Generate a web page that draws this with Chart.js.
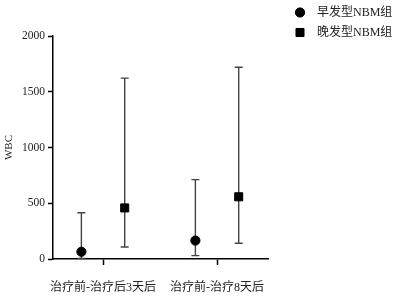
<!DOCTYPE html>
<html>
<head>
<meta charset="utf-8">
<script src="https://cdn.jsdelivr.net/npm/chart.js@4.4.1/dist/chart.umd.min.js"></script>
<style>
html,body{margin:0;padding:0;background:#fff;}
#wrap{width:396px;height:296px;position:relative;}
</style>
</head>
<body>
<div id="wrap"><canvas id="c"></canvas></div>
<script>
const categories = ['治疗前-治疗后3天后', '治疗前-治疗8天后'];
const seriesNames = ['早发型NBM组', '晚发型NBM组'];
const earlyMedian = [65, 165];
const earlyLow = [5, 30];
const earlyHigh = [415, 712];
const lateMedian = [458, 558];
const lateLow = [108, 141];
const lateHigh = [1622, 1720];
const yTicks = [0, 500, 1000, 1500, 2000];

const OFFSET = 0.19;
const FONT = "'Liberation Serif','Noto Sans CJK SC',serif";
Chart.defaults.font.family = FONT;
Chart.defaults.color = '#222';

const earlyData = categories.map((c, i) => ({x: i + 1 - OFFSET, y: earlyMedian[i], lo: earlyLow[i], hi: earlyHigh[i]}));
const lateData = categories.map((c, i) => ({x: i + 1 + OFFSET, y: lateMedian[i], lo: lateLow[i], hi: lateHigh[i]}));

const errorBars = {
  id: 'errorBars',
  beforeDatasetsDraw(chart) {
    const ctx = chart.ctx;
    const ys = chart.scales.y;
    ctx.save();
    ctx.strokeStyle = '#444';
    ctx.lineWidth = 1.4;
    chart.data.datasets.forEach((ds, di) => {
      const meta = chart.getDatasetMeta(di);
      meta.data.forEach((el, i) => {
        const d = ds.data[i];
        const x = el.x;
        const yl = ys.getPixelForValue(d.lo);
        const yh = ys.getPixelForValue(d.hi);
        const w = 4;
        ctx.beginPath();
        ctx.moveTo(x, yl); ctx.lineTo(x, yh);
        ctx.moveTo(x - w, yh); ctx.lineTo(x + w, yh);
        ctx.moveTo(x - w, yl); ctx.lineTo(x + w, yl);
        ctx.stroke();
      });
    });
    ctx.restore();
  }
};

const sideLegend = {
  id: 'sideLegend',
  afterDraw(chart) {
    const ctx = chart.ctx;
    ctx.save();
    chart.data.datasets.forEach((ds, i) => {
      const cx = 300, cy = 12.5 + i * 20;
      Chart.helpers.drawPoint(ctx, {pointStyle: ds.pointStyle, radius: ds.pointStyle === 'rect' ? 5.7 : 4.6, borderWidth: 1}, cx, cy);
      ctx.fillStyle = '#000';
      ctx.strokeStyle = '#000';
      ctx.fill();
      ctx.fillStyle = '#222';
      ctx.font = "12px " + FONT;
      ctx.textBaseline = 'middle';
      ctx.textAlign = 'left';
      ctx.fillText(ds.label, 317, cy + 0.5);
    });
    ctx.restore();
  }
};

new Chart(document.getElementById('c'), {
  type: 'scatter',
  data: {
    datasets: [
      {label: seriesNames[0], data: earlyData, pointStyle: 'circle', pointRadius: 4.6, backgroundColor: '#000', borderColor: '#000', pointHoverRadius: 4.6},
      {label: seriesNames[1], data: lateData, pointStyle: 'rect', pointRadius: 5.7, backgroundColor: '#000', borderColor: '#000', pointHoverRadius: 5.7}
    ]
  },
  options: {
    responsive: true,
    maintainAspectRatio: false,
    animation: false,
    layout: {padding: {top: 36, right: 128, left: 0, bottom: 0}},
    plugins: {
      tooltip: {enabled: false},
      legend: {display: false}
    },
    scales: {
      x: {
        type: 'linear',
        min: 0.561,
        max: 2.447,
        afterBuildTicks(s) { s.ticks = categories.map((c, i) => ({value: i + 1})); },
        afterFit(s) { s.height = 37; },
        grid: {display: true, drawOnChartArea: false, drawTicks: true, tickLength: 6, tickColor: '#000', tickWidth: 1.5},
        border: {display: true, color: '#000', width: 1.5},
        ticks: {callback: (v) => categories[v - 1], maxRotation: 0, autoSkip: false, padding: 16, font: {size: 12}, color: '#222'}
      },
      y: {
        min: 0,
        max: 2000,
        afterBuildTicks(s) { s.ticks = yTicks.map(v => ({value: v})); },
        afterFit(s) { s.width = 53; },
        grid: {display: true, drawOnChartArea: false, drawTicks: true, tickLength: 5, tickColor: '#000', tickWidth: 1.5},
        border: {display: true, color: '#000', width: 1.5},
        ticks: {callback: (v) => String(v), padding: 3, font: {size: 11.5}, color: '#222'},
        title: {display: true, text: 'WBC', font: {size: 11}, color: '#222', padding: {top: 3, bottom: 0}}
      }
    }
  },
  plugins: [errorBars, sideLegend]
});
</script>
</body>
</html>
